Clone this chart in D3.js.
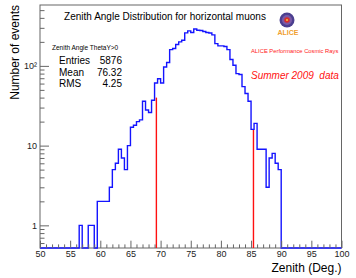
<!DOCTYPE html>
<html>
<head>
<meta charset="utf-8">
<script src="https://cdn.jsdelivr.net/npm/d3@7"></script>
<style>
  body { margin: 0; background: #fff; }
  text { font-family: "Liberation Sans", Arial, sans-serif; }
</style>
</head>
<body>
<div id="chart"></div>
<script>
// histogram: 0.5 deg bins starting at 50 deg
var binStart = 50, binWidth = 0.5;
var counts = [
  0, 0, 0, 0, 0, 0, 0, 0, 0, 0,
  0, 0, 0, 1, 0, 0, 1, 1, 0, 2,
  2, 2, 2, 3, 5, 6, 9, 7, 5, 10,
  17, 18, 20, 21, 36, 28, 26, 37, 61, 69,
  61, 97, 110, 160, 165, 185, 200, 210, 259, 275,
  262, 290, 280, 278, 270, 262, 258, 245, 190, 178,
  178, 175, 160, 120, 102, 80, 78, 55, 45, 36,
  16, 19, 9, 9, 9, 3, 7, 8, 6, 5,
  0, 0, 0, 0, 0, 0, 0, 0, 0, 0,
  0, 0, 0, 0, 0, 0, 0, 0, 0, 0
];

// red cut lines
var cutAngles = [69.3, 85.4];
var cutHeights = [40, 15.7];

var xTicks = [50, 55, 60, 65, 70, 75, 80, 85, 90, 95, 100];
var yTicks = [1, 10, 100];
var yMinor = [0.6, 0.7, 0.8, 0.9, 2, 3, 4, 5, 6, 7, 8, 9,
              20, 30, 40, 50, 60, 70, 80, 90, 200, 300, 400, 500];

var statNames = ["Entries", "Mean", "RMS"];
var statValues = ["5876", "76.32", "4.25"];

var width = 356, height = 278;
var frame = {left: 40, right: 341.5, top: 5, bottom: 248};

var svg = d3.select("#chart").append("svg")
    .attr("width", width)
    .attr("height", height);

var x = d3.scaleLinear()
    .domain([50, 100])
    .range([frame.left, frame.right]);

var y = d3.scaleLog()
    .domain([0.52, 580])
    .range([frame.bottom, frame.top]);

// frame
svg.append("rect")
    .attr("x", frame.left)
    .attr("y", frame.top)
    .attr("width", frame.right - frame.left)
    .attr("height", frame.bottom - frame.top)
    .attr("fill", "none")
    .attr("stroke", "#666")
    .attr("stroke-width", 1);

// histogram outline, empty bins sit on the bottom of the frame
var yv = function(v) { return v > 0 ? y(v) : frame.bottom; };
var path = d3.path();
path.moveTo(x(binStart), frame.bottom);
counts.forEach(function(c, i) {
  var x0 = binStart + i * binWidth;
  path.lineTo(x(x0), yv(c));
  path.lineTo(x(x0 + binWidth), yv(c));
});
path.lineTo(x(100), frame.bottom);

svg.append("path")
    .attr("d", path.toString())
    .attr("fill", "none")
    .attr("stroke", "#1414ff")
    .attr("stroke-width", 1.4);

svg.selectAll(".cut")
    .data(cutAngles)
  .enter().append("line")
    .attr("class", "cut")
    .attr("x1", function(d) { return x(d); })
    .attr("x2", function(d) { return x(d); })
    .attr("y1", frame.bottom)
    .attr("y2", function(d, i) { return y(cutHeights[i]); })
    .attr("stroke", "#ff1010")
    .attr("stroke-width", 1.4);

// x axis
var xAxis = svg.append("g")
    .attr("transform", "translate(0," + frame.bottom + ")")
    .call(d3.axisBottom(x).tickValues(xTicks).tickSizeInner(-7.3).tickSizeOuter(0).tickPadding(3));
svg.append("g")
    .attr("transform", "translate(0," + frame.bottom + ")")
    .call(d3.axisBottom(x).tickValues(d3.range(51, 100, 1).filter(function(d) { return d % 5; }))
      .tickSizeInner(-3.6).tickSizeOuter(0).tickFormat(""));

// y axis
svg.append("g")
    .attr("transform", "translate(" + frame.left + ",0)")
    .call(d3.axisLeft(y).tickValues(yTicks).tickSizeInner(-9).tickSizeOuter(0).tickPadding(3)
      .tickFormat(function(d) { return d === 100 ? "10\u00B2" : d; }));
svg.append("g")
    .attr("transform", "translate(" + frame.left + ",0)")
    .call(d3.axisLeft(y).tickValues(yMinor).tickSizeInner(-4.5).tickSizeOuter(0).tickFormat(""));

svg.selectAll(".domain").remove();
svg.selectAll(".tick line").attr("stroke", "#666");
svg.selectAll(".tick text")
    .attr("font-size", 9)
    .attr("fill", "#222")
    .style("font-family", "'Liberation Sans', Arial, sans-serif");

// axis titles
svg.append("text")
    .attr("x", frame.right)
    .attr("y", 272)
    .attr("text-anchor", "end")
    .attr("font-size", 12)
    .text("Zenith (Deg.)");

svg.append("text")
    .attr("transform", "translate(19,5) rotate(-90)")
    .attr("text-anchor", "end")
    .attr("font-size", 12)
    .text("Number of events");

// title
svg.append("text")
    .attr("x", 165)
    .attr("y", 20)
    .attr("text-anchor", "middle")
    .attr("font-size", 10)
    .text("Zenith Angle Distribution for horizontal muons");

// stats
svg.append("text")
    .attr("x", 52)
    .attr("y", 49.5)
    .attr("font-size", 6.5)
    .text("Zenith Angle ThetaY>0");

var stat = svg.selectAll(".stat")
    .data(statNames)
  .enter().append("g")
    .attr("class", "stat")
    .attr("transform", function(d, i) { return "translate(0," + (64 + i * 11.5) + ")"; });
stat.append("text")
    .attr("x", 59)
    .attr("font-size", 10)
    .text(function(d) { return d; });
stat.append("text")
    .attr("x", 122)
    .attr("text-anchor", "end")
    .attr("font-size", 10)
    .text(function(d, i) { return statValues[i]; });

// logo
var logo = svg.append("g").attr("transform", "translate(287,20)");
logo.append("circle").attr("r", 7.5).attr("fill", "#4b3f8f");
logo.append("circle").attr("r", 5).attr("fill", "#7a5aa8");
logo.append("circle").attr("r", 2.8).attr("fill", "#d8302a");
logo.append("circle").attr("r", 1).attr("fill", "#f3c040");
svg.append("text")
    .attr("x", 288)
    .attr("y", 35)
    .attr("text-anchor", "middle")
    .attr("font-size", 7)
    .attr("font-weight", "bold")
    .attr("fill", "#f0a030")
    .text("ALICE");

svg.append("text")
    .attr("x", 251)
    .attr("y", 53)
    .attr("font-size", 5.8)
    .attr("fill", "#ff2020")
    .text("ALICE Performance Cosmic Rays");

svg.append("text")
    .attr("x", 251)
    .attr("y", 79)
    .attr("font-size", 10)
    .attr("font-style", "italic")
    .attr("fill", "#ff1010")
    .style("white-space", "pre")
    .text("Summer 2009  data");
</script>
</body>
</html>
